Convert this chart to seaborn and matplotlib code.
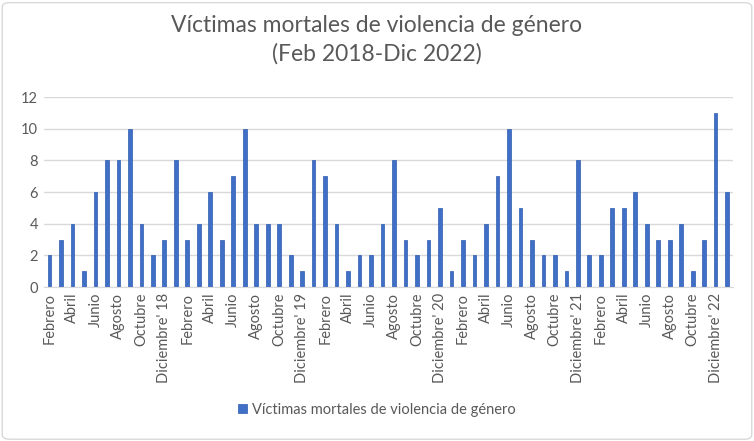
import numpy as np
import pandas as pd
import matplotlib
matplotlib.use("Agg")
import matplotlib.pyplot as plt
from matplotlib.patches import FancyBboxPatch
import seaborn as sns

# --- Datos ---
meses_base = ["Enero", "Febrero", "Marzo", "Abril", "Mayo", "Junio", "Julio",
              "Agosto", "Septiembre", "Octubre", "Noviembre", "Diciembre"]
anios = [18, 19, 20, 21, 22]

victimas = [2, 3, 4, 1, 6, 8, 8, 10, 4, 2, 3,
            8, 3, 4, 6, 3, 7, 10, 4, 4, 4, 2, 1,
            8, 7, 4, 1, 2, 2, 4, 8, 3, 2, 3, 5,
            1, 3, 2, 4, 7, 10, 5, 3, 2, 2, 1, 8,
            2, 2, 5, 5, 6, 4, 3, 3, 4, 1, 3, 11,
            6]

etiquetas = []
periodos = []
for a in anios:
    for i, m in enumerate(meses_base):
        if a == 18 and i == 0:
            continue
        etiquetas.append(f"{m}' {a}" if m == "Diciembre" else m)
        periodos.append(f"20{a}-{i + 1:02d}")
etiquetas.append("Enero' 23")
periodos.append("2023-01")

serie = "Víctimas mortales de violencia de género"
df = pd.DataFrame({"periodo": periodos, "valor": victimas})

# --- Estilo ---
sns.set_style("white")
plt.rcParams['font.family'] = ['Lato', 'DejaVu Sans']
gris = "#595959"

fig = plt.figure(figsize=(7.54, 4.41), dpi=100)
ax = fig.add_axes([0.058, 0.349, 0.914, 0.431])

sns.barplot(data=df, x="periodo", y="valor", order=periodos, color="#3F6FC6",
            width=0.32, saturation=1, label=serie, errorbar=None,
            edgecolor="#2F5BAE", linewidth=0.5, ax=ax)

ax.set_ylim(0, 12)
ax.set_xlim(-0.5, len(df) - 0.5)
ax.set_yticks(range(0, 13, 2))
ax.yaxis.grid(True, color="#D9D9D9", linewidth=1)
ax.set_axisbelow(True)
for lado in ["top", "right", "left"]:
    ax.spines[lado].set_visible(False)
ax.spines["bottom"].set_color("#D9D9D9")

pos = np.arange(0, len(df) - 1, 2)
ax.set_xticks(pos)
ax.set_xticklabels([etiquetas[p] for p in pos], rotation=90)
ax.tick_params(axis="both", colors=gris, labelsize=10.5, length=0, pad=4)
ax.set_xlabel("")
ax.set_ylabel("")

fig.suptitle("Víctimas mortales de violencia de género\n(Feb 2018-Dic 2022)",
             y=0.965, fontsize=16.5, color=gris, linespacing=1.35)

leg = ax.legend(loc="center", frameon=False, fontsize=10.5, handlelength=0.6,
                handleheight=0.6, handletextpad=0.4)
leg.set_bbox_to_anchor((0.5, 1 - 410 / 441), transform=fig.transFigure)
for t in leg.get_texts():
    t.set_color(gris)

borde = FancyBboxPatch((0.003, 0.004), 0.994, 0.99, boxstyle="round,pad=0,rounding_size=0.01",
                       transform=fig.transFigure, fill=False, edgecolor="#D9D9D9", linewidth=1)
fig.patches.append(borde)

fig.savefig("out.png", dpi=100)
plt.close(fig)
